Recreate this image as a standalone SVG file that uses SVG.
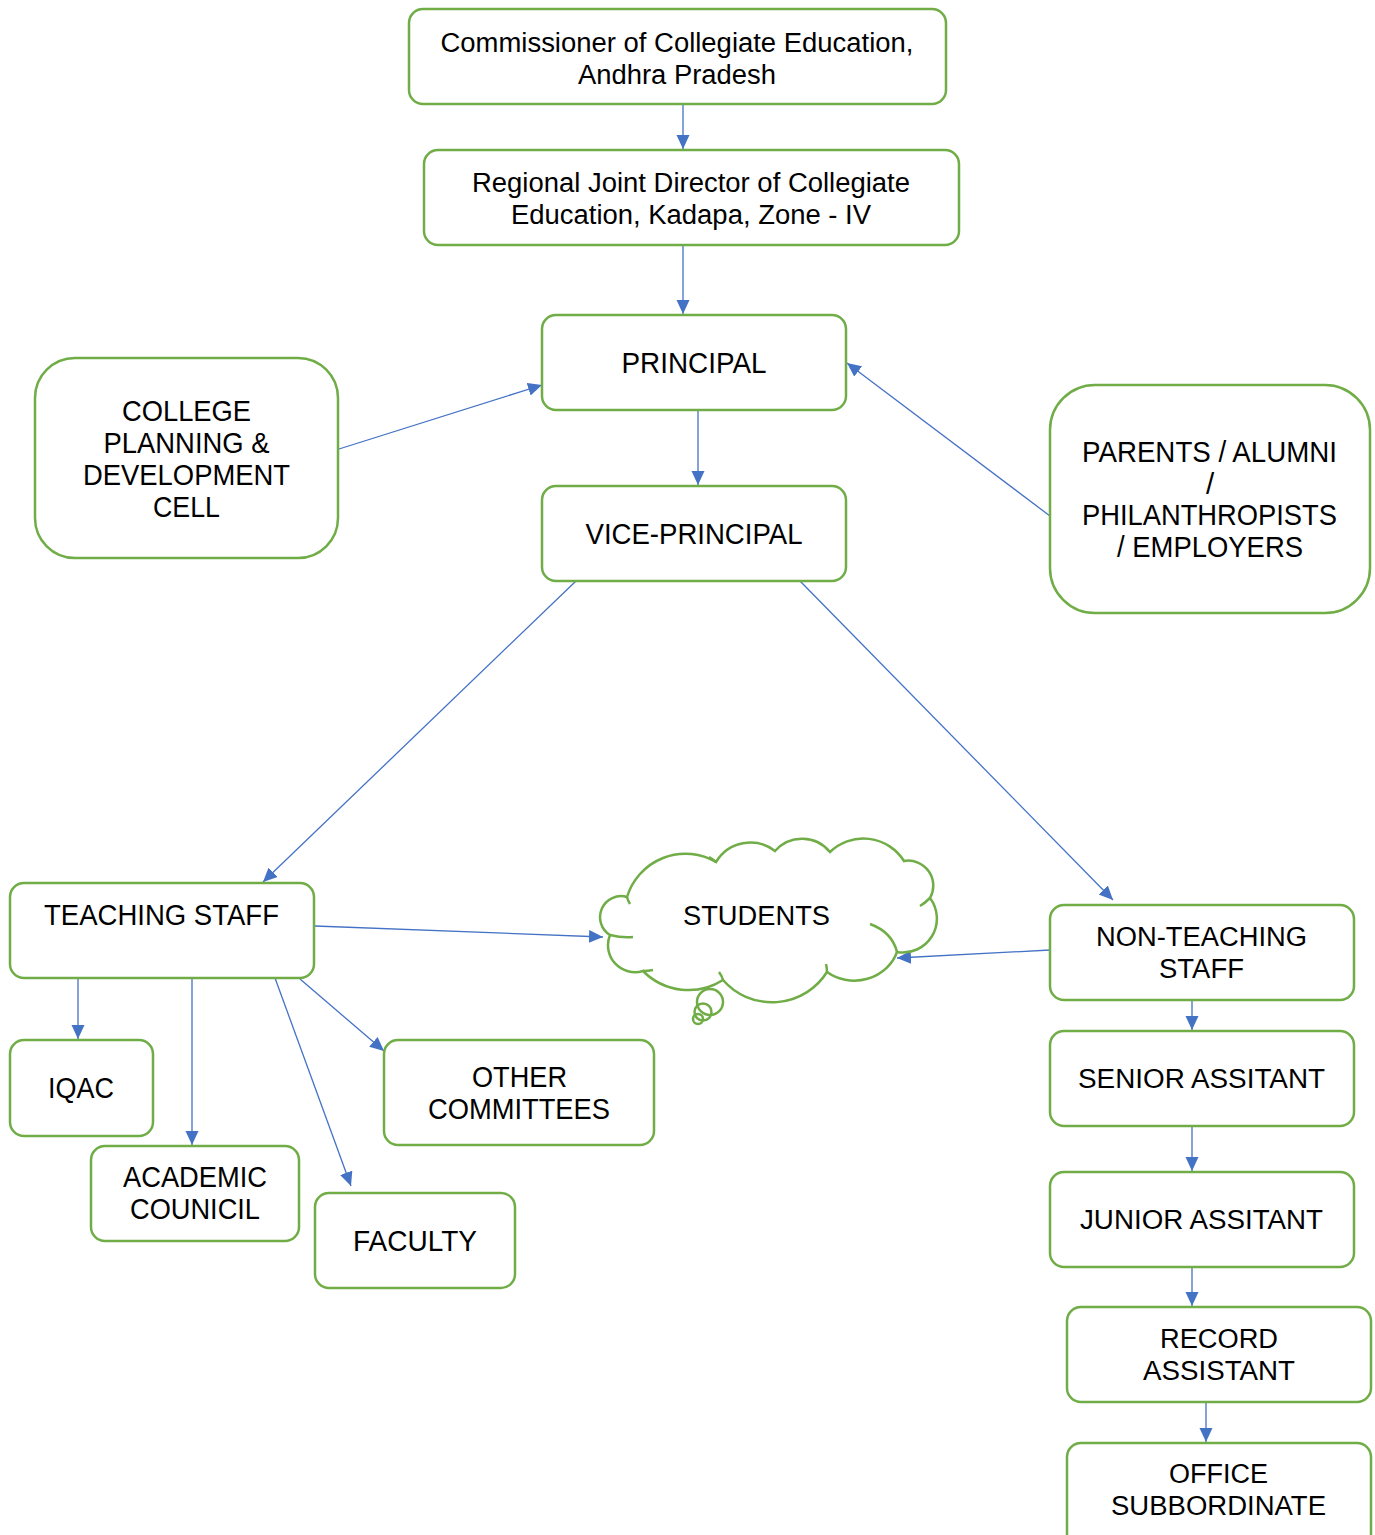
<svg xmlns="http://www.w3.org/2000/svg" width="1375" height="1535" viewBox="0 0 1375 1535">
<defs>
<style>
.box{fill:#fff;stroke:#70AD47;stroke-width:2.5}
.t{font-family:"Liberation Sans",Arial,sans-serif;font-size:27px;fill:#000;text-anchor:middle}
.c{font-size:29.5px}
.e{stroke:#4472C4;stroke-width:1.3;fill:none;marker-end:url(#ah)}
.cl{fill:none;stroke:#70AD47;stroke-width:2.5}
</style>
<marker id="ah" markerUnits="userSpaceOnUse" markerWidth="15" markerHeight="14" refX="14" refY="6.5" orient="auto">
<path d="M0,0 L14,6.5 L0,13 z" fill="#4472C4"/>
</marker>
</defs>
<rect width="1375" height="1535" fill="#fff"/>

<g id="connectors">
<line class="e" x1="683" y1="104" x2="683" y2="149"/>
<line class="e" x1="683" y1="245" x2="683" y2="314"/>
<line class="e" x1="698" y1="410" x2="698" y2="485"/>
<line class="e" x1="339" y1="449" x2="542" y2="385"/>
<line class="e" x1="1050" y1="516" x2="847" y2="363"/>
<line class="e" x1="576" y1="581" x2="263" y2="882"/>
<line class="e" x1="800" y1="581" x2="1113" y2="900"/>
<line class="e" x1="315" y1="926" x2="603" y2="937"/>
<line class="e" x1="1050" y1="950" x2="897" y2="958"/>
<line class="e" x1="78" y1="978" x2="78" y2="1039"/>
<line class="e" x1="192" y1="978" x2="192" y2="1145"/>
<line class="e" x1="275" y1="978" x2="351" y2="1186"/>
<line class="e" x1="300" y1="979" x2="384" y2="1051"/>
<line class="e" x1="1192" y1="1000" x2="1192" y2="1030"/>
<line class="e" x1="1192" y1="1126" x2="1192" y2="1171"/>
<line class="e" x1="1192" y1="1267" x2="1192" y2="1306"/>
<line class="e" x1="1206" y1="1402" x2="1206" y2="1442"/>
</g>

<g id="commissioner">
<rect class="box" x="409" y="9" width="537" height="95" rx="14"/>
<text class="t" x="677" y="51.5" textLength="473" lengthAdjust="spacingAndGlyphs">Commissioner of Collegiate Education,</text>
<text class="t" x="677" y="83.5" textLength="198" lengthAdjust="spacingAndGlyphs">Andhra Pradesh</text>
</g>

<g id="regional">
<rect class="box" x="424" y="150" width="535" height="95" rx="14"/>
<text class="t" x="691" y="191.5" textLength="438" lengthAdjust="spacingAndGlyphs">Regional Joint Director of Collegiate</text>
<text class="t" x="691" y="223.5" textLength="360" lengthAdjust="spacingAndGlyphs">Education, Kadapa, Zone - IV</text>
</g>

<g id="principal">
<rect class="box" x="542" y="315" width="304" height="95" rx="14"/>
<text class="t c" x="694" y="372.5" textLength="145" lengthAdjust="spacingAndGlyphs">PRINCIPAL</text>
</g>

<g id="vice-principal">
<rect class="box" x="542" y="486" width="304" height="95" rx="14"/>
<text class="t c" x="694" y="543.5" textLength="217" lengthAdjust="spacingAndGlyphs">VICE-PRINCIPAL</text>
</g>

<g id="college-planning">
<rect class="box" x="35" y="358" width="303" height="200" rx="40"/>
<text class="t c" x="186.5" y="420.5" textLength="129" lengthAdjust="spacingAndGlyphs">COLLEGE</text>
<text class="t c" x="186.5" y="452.5" textLength="166" lengthAdjust="spacingAndGlyphs">PLANNING &amp;</text>
<text class="t c" x="186.5" y="484.5" textLength="207" lengthAdjust="spacingAndGlyphs">DEVELOPMENT</text>
<text class="t c" x="186.5" y="516.5" textLength="67" lengthAdjust="spacingAndGlyphs">CELL</text>
</g>

<g id="parents">
<rect class="box" x="1050" y="385" width="320" height="228" rx="45"/>
<text class="t c" x="1209.5" y="461.5" textLength="255" lengthAdjust="spacingAndGlyphs">PARENTS / ALUMNI</text>
<text class="t c" x="1210" y="493.5">/</text>
<text class="t c" x="1209.5" y="524.5" textLength="255" lengthAdjust="spacingAndGlyphs">PHILANTHROPISTS</text>
<text class="t c" x="1210" y="556.5" textLength="186" lengthAdjust="spacingAndGlyphs">/ EMPLOYERS</text>
</g>

<g id="teaching-staff">
<rect class="box" x="10" y="883" width="304" height="95" rx="14"/>
<text class="t c" x="161.5" y="924.5" textLength="235" lengthAdjust="spacingAndGlyphs">TEACHING STAFF</text>
</g>

<g id="students">
<path class="cl" d="M627,897 A61,61 0 0 1 716,862 A40,40 0 0 1 775,851 A36,36 0 0 1 830,852 A48,48 0 0 1 904,861 A25,25 0 0 1 930,898 A34,34 0 0 1 897,952 A45,42 0 0 1 827,972 A65,65 0 0 1 723,980 A64,64 0 0 1 643,971 A27,27 0 0 1 610,935 A21,21 0 0 1 627,897 Z"/>
<path class="cl" d="M610,935 Q622,938 633,937"/>
<path class="cl" d="M870,924 Q892,932 897,952"/>
<path class="cl" d="M627,897 Q628,901 630,904"/>
<path class="cl" d="M930,898 Q925,903 920,906"/>
<path class="cl" d="M827,972 Q827,968 826,964"/>
<path class="cl" d="M723,980 Q722,976 719,972"/>
<path class="cl" d="M716,862 Q713,859 709,857"/>
<path class="cl" d="M643,971 Q648,971 653,970"/>
<circle class="cl" cx="710" cy="1002" r="13"/>
<circle class="cl" cx="703" cy="1012" r="8.5"/>
<circle class="cl" cx="698" cy="1019" r="5"/>
<text class="t" x="756.5" y="925" textLength="147" lengthAdjust="spacingAndGlyphs">STUDENTS</text>
</g>

<g id="non-teaching-staff">
<rect class="box" x="1050" y="905" width="304" height="95" rx="14"/>
<text class="t" x="1201.5" y="945.5" textLength="211" lengthAdjust="spacingAndGlyphs">NON-TEACHING</text>
<text class="t" x="1201.5" y="977.5" textLength="85" lengthAdjust="spacingAndGlyphs">STAFF</text>
</g>

<g id="iqac">
<rect class="box" x="10" y="1040" width="143" height="96" rx="14"/>
<text class="t c" x="81" y="1097.5" textLength="66" lengthAdjust="spacingAndGlyphs">IQAC</text>
</g>

<g id="other-committees">
<rect class="box" x="384" y="1040" width="270" height="105" rx="14"/>
<text class="t c" x="519.5" y="1086.5" textLength="95" lengthAdjust="spacingAndGlyphs">OTHER</text>
<text class="t c" x="519" y="1118.5" textLength="182" lengthAdjust="spacingAndGlyphs">COMMITTEES</text>
</g>

<g id="academic-council">
<rect class="box" x="91" y="1146" width="208" height="95" rx="14"/>
<text class="t c" x="195" y="1186.5" textLength="144" lengthAdjust="spacingAndGlyphs">ACADEMIC</text>
<text class="t c" x="195" y="1218.5" textLength="130" lengthAdjust="spacingAndGlyphs">COUNICIL</text>
</g>

<g id="faculty">
<rect class="box" x="315" y="1193" width="200" height="95" rx="14"/>
<text class="t c" x="415" y="1250.5" textLength="124" lengthAdjust="spacingAndGlyphs">FACULTY</text>
</g>

<g id="senior-assistant">
<rect class="box" x="1050" y="1031" width="304" height="95" rx="14"/>
<text class="t" x="1201.5" y="1088" textLength="247" lengthAdjust="spacingAndGlyphs">SENIOR ASSITANT</text>
</g>

<g id="junior-assistant">
<rect class="box" x="1050" y="1172" width="304" height="95" rx="14"/>
<text class="t" x="1201.5" y="1229" textLength="243" lengthAdjust="spacingAndGlyphs">JUNIOR ASSITANT</text>
</g>

<g id="record-assistant">
<rect class="box" x="1067" y="1307" width="304" height="95" rx="14"/>
<text class="t" x="1219" y="1347.5" textLength="118" lengthAdjust="spacingAndGlyphs">RECORD</text>
<text class="t" x="1219" y="1379.5" textLength="152" lengthAdjust="spacingAndGlyphs">ASSISTANT</text>
</g>

<g id="office-subordinate">
<rect class="box" x="1067" y="1443" width="304" height="105" rx="14"/>
<text class="t" x="1218.5" y="1482.5" textLength="99" lengthAdjust="spacingAndGlyphs">OFFICE</text>
<text class="t" x="1218.5" y="1514.5" textLength="215" lengthAdjust="spacingAndGlyphs">SUBBORDINATE</text>
</g>
</svg>
